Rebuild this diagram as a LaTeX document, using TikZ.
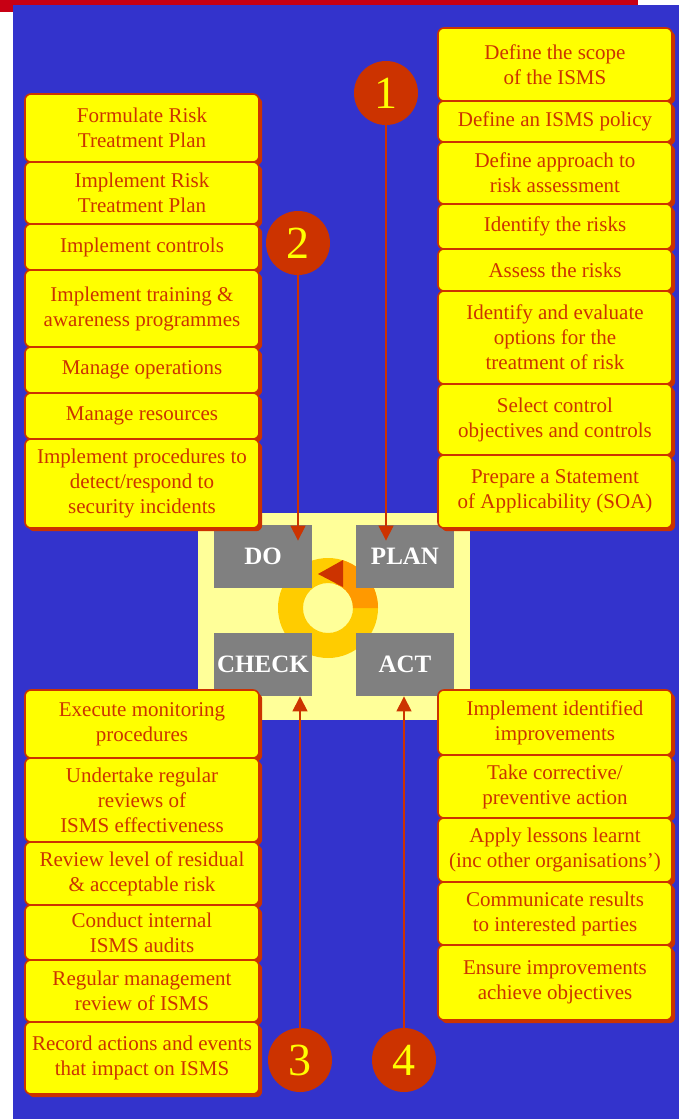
\documentclass[tikz,border=0pt]{standalone}
\usepackage{fontspec}
\setmainfont{Liberation Serif}
\usetikzlibrary{arrows.meta,shadows}
\definecolor{isblue}{HTML}{3333CC}
\definecolor{isyellow}{HTML}{FFFF00}
\definecolor{isred}{HTML}{CC3300}
\definecolor{ispale}{HTML}{FFFF99}
\definecolor{isgray}{HTML}{808080}
\definecolor{isgold}{HTML}{FFCC00}
\definecolor{isorange}{HTML}{FF9900}
\definecolor{isbar}{HTML}{C80014}
\newcommand{\boxFont}[0]{\fontsize{10.5}{12.5}\selectfont}
\newcommand{\colWidth}[0]{117pt}

\begin{document}
\begin{tikzpicture}[x=0.5pt, y=-0.5pt]
  \tikzset{
    task/.style={draw=isred, line width=0.8pt, fill=isyellow, text=isred,
      rounded corners=3pt, align=center, inner sep=0pt, font=\boxFont,
      minimum width=\colWidth,
      drop shadow={shadow xshift=1.6pt, shadow yshift=-1.6pt, fill=isred, opacity=1}},
    phase/.style={fill=isgray, text=white, font=\fontsize{12.5}{13}\selectfont\bfseries,
      inner sep=0pt, minimum width=49pt, minimum height=31.5pt},
    stepnum/.style={circle, fill=isred, text=isyellow, font=\fontsize{23}{23}\selectfont,
      inner sep=0pt, minimum size=32pt},
    link/.style={draw=isred, line width=0.6pt, -{Triangle[width=7.5pt,length=7.5pt]}}
  }
  \useasboundingbox (0,0) rectangle (679,1119);
  \fill[white] (0,0) rectangle (679,1119);
  \fill[isblue] (13,5) rectangle (679,1119);
  \fill[isbar] (0,0) rectangle (638,5);
  \fill[isbar] (0,0) rectangle (13,12);

  % cycle in the middle
  \fill[ispale] (198,513) rectangle (470,720);
  \fill[isgold, even odd rule] (328,608) circle[radius=50] (328,608) circle[radius=25];
  \begin{scope}
    \clip (328,608) -- (400,608) -- (400,530) -- (352,530) -- cycle;
    \fill[isorange, even odd rule] (328,608) circle[radius=50] (328,608) circle[radius=25];
  \end{scope}
  \fill[isred] (343,560) -- (343,587) -- (318,574) -- cycle;

  \node[phase] (do)    at (263,556.5) {DO};
  \node[phase] (plan)  at (405,556.5) {PLAN};
  \node[phase] (check) at (263,664.5) {CHECK};
  \node[phase] (act)   at (405,664.5) {ACT};

  % PLAN
  \foreach \nm/\ya/\yb/\txt in {
      p1/28/101/{Define the scope\\of the ISMS},
      p2/101/142/{Define an ISMS policy},
      p3/142/204/{Define approach to\\risk assessment},
      p4/204/249/{Identify the risks},
      p5/249/291/{Assess the risks},
      p6/291/384/{Identify and evaluate\\options for the\\treatment of risk},
      p7/384/455/{Select control\\objectives and controls},
      p8/455/528/{Prepare a Statement\\of Applicability (SOA)}}
    \node[task, minimum height={(\yb-\ya)*0.5pt}] (\nm) at (555,{(\ya+\yb)/2}) {\txt};

  % DO
  \foreach \nm/\ya/\yb/\txt in {
      d1/94/162/{Formulate Risk\\Treatment Plan},
      d2/162/224/{Implement Risk\\Treatment Plan},
      d3/224/270/{Implement controls},
      d4/270/347/{Implement training \&\\awareness programmes},
      d5/347/393/{Manage operations},
      d6/393/439/{Manage resources},
      d7/439/528/{Implement procedures to\\detect/respond to\\security incidents}}
    \node[task, minimum height={(\yb-\ya)*0.5pt}] (\nm) at (142,{(\ya+\yb)/2}) {\txt};

  % CHECK
  \foreach \nm/\ya/\yb/\txt in {
      c1/690/758/{Execute monitoring\\procedures},
      c2/758/842/{Undertake regular\\reviews of\\ISMS effectiveness},
      c3/842/905/{Review level of residual\\\& acceptable risk},
      c4/905/960/{Conduct internal\\ISMS audits},
      c5/960/1022/{Regular management\\review of ISMS},
      c6/1022/1094/{Record actions and events\\that impact on ISMS}}
    \node[task, minimum height={(\yb-\ya)*0.5pt}] (\nm) at (142,{(\ya+\yb)/2}) {\txt};

  % ACT
  \foreach \nm/\ya/\yb/\txt in {
      a1/690/755/{Implement identified\\improvements},
      a2/755/818/{Take corrective/\\preventive action},
      a3/818/882/{Apply lessons learnt\\(inc other organisations')},
      a4/882/945/{Communicate results\\to interested parties},
      a5/945/1020/{Ensure improvements\\achieve objectives}}
    \node[task, minimum height={(\yb-\ya)*0.5pt}] (\nm) at (555,{(\ya+\yb)/2}) {\txt};

  \node[stepnum] (one)   at (386,93)   {1};
  \node[stepnum] (two)   at (298,243)  {2};
  \node[stepnum] (three) at (300,1060) {3};
  \node[stepnum] (four)  at (404,1060) {4};

  \draw[link, shorten >=-8pt] (one) -- (one |- plan.north);
  \draw[link, shorten >=-8pt] (two) -- (two |- do.north);
  \draw[link] (three) -- (three |- check.south);
  \draw[link] (four) -- (four |- act.south);
\end{tikzpicture}
\end{document}
